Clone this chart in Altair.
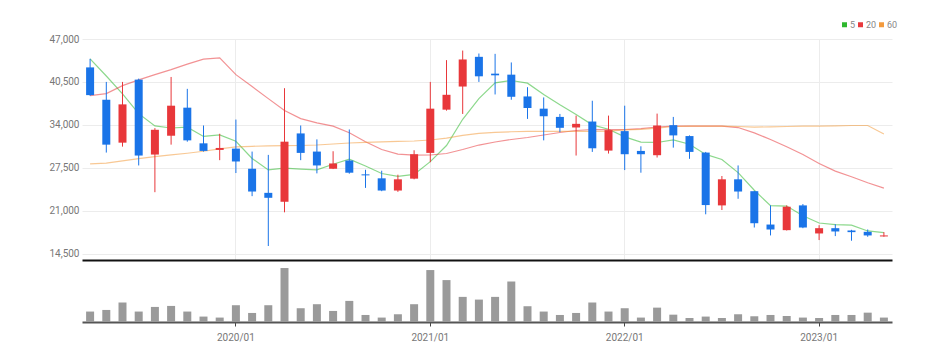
import altair as alt
import pandas as pd

months = ["2019/04", "2019/05", "2019/06", "2019/07", "2019/08", "2019/09", "2019/10", "2019/11", "2019/12",
          "2020/01", "2020/02", "2020/03", "2020/04", "2020/05", "2020/06", "2020/07", "2020/08", "2020/09",
          "2020/10", "2020/11", "2020/12",
          "2021/01", "2021/02", "2021/03", "2021/04", "2021/05", "2021/06", "2021/07", "2021/08", "2021/09",
          "2021/10", "2021/11", "2021/12",
          "2022/01", "2022/02", "2022/03", "2022/04", "2022/05", "2022/06", "2022/07", "2022/08", "2022/09",
          "2022/10", "2022/11", "2022/12",
          "2023/01", "2023/02", "2023/03", "2023/04", "2023/05"]
jan_labels = ["2020/01", "2021/01", "2022/01", "2023/01"]

opens = [42700, 37800, 31300, 40850, 29500, 32350, 36600, 31200, 30200, 30400,
         27350, 23700, 22350, 32700, 29950, 27350, 28600, 26500, 25900, 24050,
         25850, 29750, 36300, 39800, 44300, 41750, 41600, 38300, 36450, 35200,
         33600, 34500, 30100, 33050, 30050, 29400, 33950, 32300, 29800, 21800,
         25750, 23950, 18900, 18050, 21800, 17550, 18350, 18000, 17800, 17100]
closes = [38500, 31000, 37100, 29350, 33250, 36900, 31650, 30050, 30500, 28450,
          23900, 22950, 31450, 29750, 27850, 28150, 26750, 26350, 24050, 25750,
          29550, 36450, 38550, 43900, 41350, 41500, 38250, 36550, 35300, 33550,
          34150, 30450, 33200, 29550, 29550, 33900, 32400, 29900, 21850, 25750,
          23900, 19100, 18150, 21600, 18450, 18350, 17850, 17750, 17250, 17250]
highs = [44000, 40500, 40500, 41000, 33500, 41250, 39450, 33900, 32650, 34800,
         29950, 29450, 39550, 33900, 31800, 30000, 33300, 27200, 27050, 26450,
         30150, 40500, 43800, 45250, 44800, 44750, 43450, 39700, 38150, 35650,
         35400, 37650, 35400, 36900, 30750, 35700, 35200, 32400, 29900, 26250,
         27850, 24000, 21800, 21800, 22000, 18800, 18950, 18100, 18150, 17750]
lows = [38400, 29800, 30700, 27850, 23800, 31000, 31450, 29950, 28650, 26700,
        23200, 15650, 20750, 28650, 26650, 27300, 26600, 24450, 23950, 23850,
        25750, 28350, 36150, 35650, 40500, 38600, 37800, 34900, 31650, 32900,
        29350, 29900, 29650, 27150, 26750, 29050, 30550, 28850, 20450, 21100,
        22800, 18450, 17250, 18000, 18350, 16550, 17150, 16450, 17050, 17050]

ma5 = [44000, 41400, 38700, 35700, 33840, 33520, 33650, 32240, 32470, 31510,
       28910, 27170, 27450, 27300, 27180, 28030, 28790, 27770, 26630, 26210,
       26490, 28430, 30870, 34840, 37960, 40350, 40710, 40310, 38590, 37030,
       35560, 34000, 33330, 32180, 31380, 31330, 31720, 31060, 29520, 28760,
       26760, 24100, 21750, 21700, 20240, 19130, 18880, 18800, 17930, 17690]
ma20 = [38430, 38730, 39940, 40800, 41600, 42360, 43190, 43950, 44130, 41600,
        39790, 37970, 36160, 34950, 34300, 33800, 32800, 31430, 30260, 29560,
        29400, 29430, 29660, 30260, 30940, 31400, 31780, 32080, 32460, 32840,
        33140, 33290, 33290, 33290, 33440, 33670, 33800, 33800, 33800, 33800,
        33590, 32790, 31780, 30670, 29510, 28150, 26990, 26140, 25230, 24420]
ma60 = [28100, 28200, 28550, 28880, 29200, 29450, 29700, 30000, 30350, 30650,
        30750, 30800, 30850, 30870, 30950, 31100, 31250, 31350, 31430, 31500,
        31550, 31700, 32000, 32400, 32700, 32850, 32950, 33000, 33000, 33000,
        33000, 33000, 33050, 33250, 33300, 33500, 33750, 33800, 33800, 33800,
        33750, 33650, 33700, 33750, 33800, 33800, 33850, 33900, 33900, 32600]

volume = [208, 240, 388, 208, 300, 320, 208, 108, 88, 334,
          180, 334, 1074, 274, 354, 220, 420, 140, 88, 154,
          354, 1034, 834, 500, 446, 500, 806, 314, 208, 140,
          180, 388, 208, 274, 88, 286, 146, 80, 108, 80,
          154, 114, 140, 120, 88, 80, 140, 140, 186, 88]

price_ticks = [14500, 21000, 27500, 34000, 40500, 47000]
ma_names = ["5", "20", "60"]
ma_colors = ["#2eb82e", "#e8393c", "#f39a3d"]
UP = "#e8373a"
DOWN = "#1a74e8"
FONT = "'Liberation Sans Narrow', Roboto, sans-serif"

candles = pd.DataFrame({"month": months, "open": opens, "close": closes,
                        "high": highs, "low": lows, "volume": volume})
ma_df = pd.concat([
    pd.DataFrame({"month": months, "value": ma5, "series": "5"}),
    pd.DataFrame({"month": months, "value": ma20, "series": "20"}),
    pd.DataFrame({"month": months, "value": ma60, "series": "60"}),
])

xscale = alt.Scale(type="band", domain=months, paddingInner=0, paddingOuter=0)
yscale = alt.Scale(domain=[13530, 47000], nice=False, zero=False)

x_price = alt.X("month:O", scale=xscale,
                axis=alt.Axis(values=jan_labels, labels=False, ticks=False, grid=True,
                              gridColor="#ececec", domainColor="#111", domainWidth=2, title=None))
y_axis = alt.Axis(values=price_ticks, format=",.0f", ticks=False, domain=False, grid=True,
                  gridColor="#ececec", labelColor="#777", labelFontSize=10, labelPadding=3,
                  labelFont=FONT, title=None)

cand_color = alt.condition("datum.close >= datum.open", alt.value(UP), alt.value(DOWN))

lines = alt.Chart(ma_df).mark_line(strokeWidth=1.2, opacity=0.55).encode(
    x=x_price,
    y=alt.Y("value:Q", scale=yscale, axis=y_axis),
    color=alt.Color("series:N", scale=alt.Scale(domain=ma_names, range=ma_colors),
                    legend=alt.Legend(orient="none", legendX=758, legendY=-19, direction="horizontal",
                                      title=None, symbolType="square", symbolSize=4,
                                      symbolOpacity=1, symbolStrokeWidth=3, labelFontSize=9,
                                      labelColor="#888", labelFont=FONT, columnPadding=-10,
                                      labelOffset=1)),
    detail="series:N",
)

wicks = alt.Chart(candles).mark_rule(strokeWidth=1).encode(
    x=x_price,
    y=alt.Y("low:Q", scale=yscale, axis=y_axis),
    y2="high:Q",
    color=cand_color,
)
bodies = alt.Chart(candles).mark_bar(size=8).encode(
    x=x_price,
    y=alt.Y("open:Q", scale=yscale, axis=y_axis),
    y2="close:Q",
    color=cand_color,
)

price = alt.layer(lines, wicks, bodies).properties(width=810, height=221)

vol = alt.Chart(candles).mark_bar(size=8, color="#9a9a9a").encode(
    x=alt.X("month:O", scale=xscale,
            axis=alt.Axis(values=jan_labels, grid=False, ticks=True, tickSize=4, tickColor="#444",
                          domainColor="#555", domainWidth=2, labelColor="#777", labelFontSize=10,
                          labelFont=FONT, labelAngle=0, labelPadding=6, title=None)),
    y=alt.Y("volume:Q", scale=alt.Scale(domain=[0, 1234], nice=False), axis=None),
).properties(width=810, height=62)

chart = alt.vconcat(price, vol, spacing=0, bounds="flush").properties(
    padding={"left": 40, "top": 12, "right": 5, "bottom": 5}
).configure_view(strokeWidth=0)

chart.save("out.html", embed_options={"renderer": "svg", "actions": False})
